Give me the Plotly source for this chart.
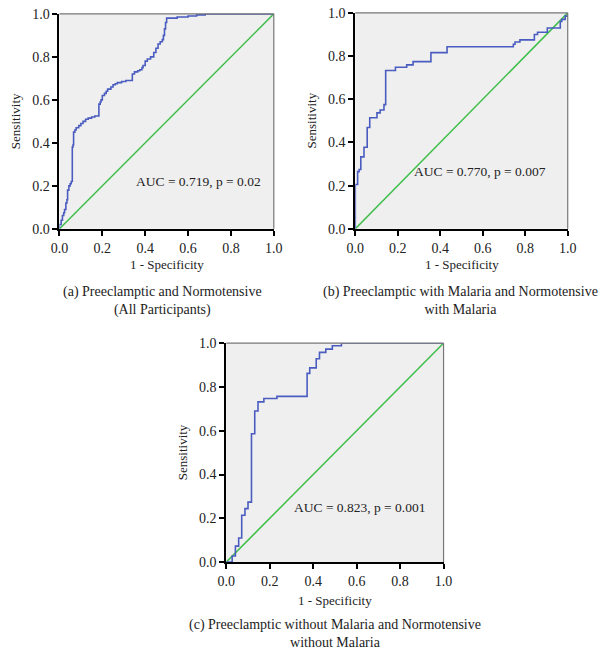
import plotly.graph_objects as go

# Panel (a)
a_fpr = [0.0, 0.0, 0.008, 0.014, 0.02, 0.024, 0.03, 0.035, 0.038, 0.044, 0.05, 0.055, 0.06, 0.063, 0.066, 0.072,
         0.078, 0.09, 0.1, 0.11, 0.122, 0.134, 0.15, 0.165, 0.18, 0.184, 0.19, 0.194, 0.2, 0.21, 0.218, 0.225,
         0.24, 0.25, 0.26, 0.27, 0.29, 0.31, 0.33, 0.34, 0.35, 0.365, 0.375, 0.385, 0.39, 0.4, 0.41, 0.425,
         0.44, 0.45, 0.46, 0.47, 0.48, 0.485, 0.49, 0.495, 0.5, 0.511, 0.549, 0.6, 0.64, 0.68, 1.0]
a_tpr = [0.0, 0.02, 0.04, 0.062, 0.075, 0.09, 0.12, 0.135, 0.18, 0.2, 0.21, 0.22, 0.38, 0.39, 0.45, 0.46,
         0.47, 0.48, 0.49, 0.50, 0.51, 0.515, 0.52, 0.525, 0.525, 0.58, 0.59, 0.60, 0.62, 0.63, 0.64, 0.65,
         0.66, 0.67, 0.675, 0.68, 0.685, 0.69, 0.69, 0.72, 0.73, 0.735, 0.74, 0.75, 0.76, 0.78, 0.79, 0.80,
         0.82, 0.84, 0.86, 0.87, 0.88, 0.90, 0.93, 0.96, 0.98, 0.98, 0.985, 0.99, 0.995, 1.0, 1.0]

# Panel (b)
b_fpr = [0.0, 0.0, 0.011, 0.018, 0.026, 0.041, 0.056, 0.068, 0.102, 0.117, 0.135, 0.143, 0.189, 0.242, 0.272,
         0.356, 0.432, 0.744, 0.752, 0.775, 0.843, 0.858, 0.904, 0.965, 0.972, 0.988, 1.0]
b_tpr = [0.0, 0.205, 0.265, 0.275, 0.333, 0.378, 0.469, 0.514, 0.537, 0.55, 0.575, 0.733, 0.748, 0.759, 0.774,
         0.816, 0.843, 0.855, 0.865, 0.875, 0.90, 0.91, 0.93, 0.96, 0.97, 0.985, 1.0]

# Panel (c)
c_fpr = [0.0, 0.027, 0.042, 0.057, 0.071, 0.086, 0.1, 0.116, 0.131, 0.146, 0.173, 0.233, 0.372, 0.384, 0.414,
         0.429, 0.458, 0.488, 0.53, 1.0]
c_tpr = [0.0, 0.028, 0.073, 0.11, 0.214, 0.244, 0.274, 0.586, 0.69, 0.732, 0.747, 0.757, 0.862, 0.887, 0.929,
         0.958, 0.973, 0.988, 1.0, 1.0]

ref_line = [0.0, 1.0]
ticks = [0.0, 0.2, 0.4, 0.6, 0.8, 1.0]

auc_texts = ["AUC = 0.719, p = 0.02", "AUC = 0.770, p = 0.007", "AUC = 0.823, p = 0.001"]
captions = ["(a) Preeclamptic and Normotensive<br>(All Participants)",
            "(b) Preeclamptic with Malaria and Normotensive<br>with Malaria",
            "(c) Preeclamptic without Malaria and Normotensive<br>without Malaria"]

W, H = 600, 659
# plot boxes in pixels: (x0, x1, ytop, ybottom)
boxes = [(52, 273, 7, 227), (357, 576, 6, 227), (224, 448, 344, 568)]
xtitle_off = [37, 37, 39]
auc_pos = [(0.65, 0.22), (0.585, 0.266), (0.615, 0.249)]

FONT = "Liberation Serif"
BLUE = "#4a5cc0"
GREEN = "#3fbf4a"

fig = go.Figure()
data = [(a_fpr, a_tpr), (b_fpr, b_tpr), (c_fpr, c_tpr)]
annotations = []
shapes = []
layout = {}
for i, ((fx, ty), (x0, x1, yt, yb)) in enumerate(zip(data, boxes)):
    n = "" if i == 0 else str(i + 1)
    xa = "x" + n
    ya = "y" + n
    fig.add_trace(go.Scatter(x=ref_line, y=ref_line, mode="lines", line=dict(color=GREEN, width=1.5),
                             xaxis=xa, yaxis=ya, showlegend=False, hoverinfo="skip"))
    fig.add_trace(go.Scatter(x=fx, y=ty, mode="lines", line=dict(color=BLUE, width=1.6, shape="hv"),
                             xaxis=xa, yaxis=ya, showlegend=False))
    ax = dict(domain=[x0 / W, x1 / W], range=[0, 1], tickvals=ticks, tickformat=".1f",
              showgrid=False, zeroline=False, showline=True, linecolor="black", linewidth=2,
              ticks="outside", ticklen=5, tickwidth=1.5, tickcolor="black",
              tickfont=dict(family=FONT, size=14, color="#222"), anchor=ya)
    ay = dict(domain=[1 - yb / H, 1 - yt / H], range=[0, 1], tickvals=ticks, tickformat=".1f",
              showgrid=False, zeroline=False, showline=True, linecolor="black", linewidth=2,
              ticks="outside", ticklen=5, tickwidth=1.5, tickcolor="black",
              tickfont=dict(family=FONT, size=14, color="#222"), anchor=xa)
    layout["xaxis" + n] = ax
    layout["yaxis" + n] = ay
    # background and top/right border
    shapes.append(dict(type="rect", xref=xa + " domain", yref=ya + " domain", x0=0, x1=1, y0=0, y1=1,
                       fillcolor="#efefef", line=dict(width=0), layer="below"))
    shapes.append(dict(type="line", xref=xa + " domain", yref=ya + " domain", x0=0, x1=1, y0=1, y1=1,
                       line=dict(color="#777", width=1.2)))
    shapes.append(dict(type="line", xref=xa + " domain", yref=ya + " domain", x0=1, x1=1, y0=0, y1=1,
                       line=dict(color="#777", width=1.2)))
    # AUC text
    annotations.append(dict(x=auc_pos[i][0], y=auc_pos[i][1], xref=xa, yref=ya, text=auc_texts[i],
                            showarrow=False, xanchor="center", yanchor="middle",
                            font=dict(family=FONT, size=13.5, color="#222")))
    # axis titles
    annotations.append(dict(x=(x0 + x1) / 2 / W, y=1 - (yb + xtitle_off[i]) / H, xref="paper", yref="paper",
                            text="1 - Specificity", showarrow=False, xanchor="center", yanchor="middle",
                            font=dict(family=FONT, size=13, color="#222")))
    annotations.append(dict(x=(x0 - 45) / W, y=1 - (yt + yb) / 2 / H, xref="paper", yref="paper",
                            text="Sensitivity", showarrow=False, textangle=-90, xanchor="center",
                            yanchor="middle", font=dict(family=FONT, size=13, color="#222")))

cap_pos = [(158, 301), (465, 300.5), (336, 641.5)]
for (cx, cy), txt in zip(cap_pos, captions):
    annotations.append(dict(x=cx / W, y=1 - cy / H, xref="paper", yref="paper", text=txt, showarrow=False,
                            align="center", xanchor="center", yanchor="middle",
                            font=dict(family=FONT, size=14, color="#222")))

fig.update_layout(width=W, height=H, margin=dict(l=0, r=0, t=0, b=0), paper_bgcolor="white",
                  plot_bgcolor="rgba(0,0,0,0)", annotations=annotations, shapes=shapes, **layout)
fig.write_html("out.html")
